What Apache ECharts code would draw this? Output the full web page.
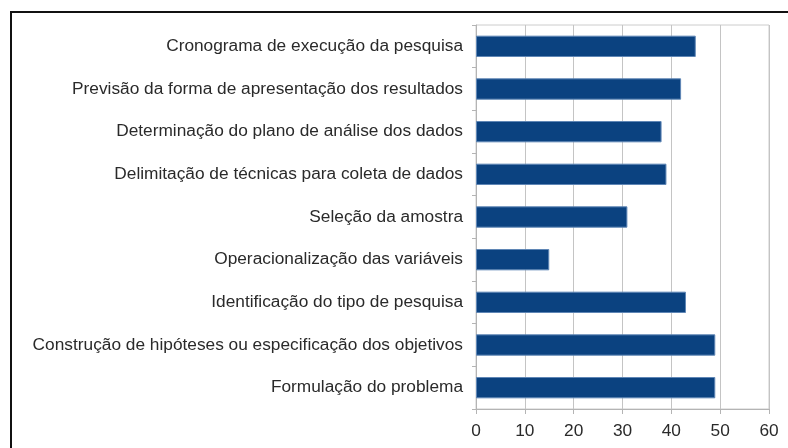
<!DOCTYPE html>
<html><head><meta charset="utf-8">
<script src="https://cdn.jsdelivr.net/npm/echarts@6/dist/echarts.min.js"></script>
<style>
html,body{margin:0;padding:0;background:#fff;overflow:hidden}
#c{position:absolute;left:0;top:0;width:788px;height:448px}
#frame{position:absolute;left:10px;top:11px;width:800px;height:460px;border:2px solid #111;box-sizing:border-box;pointer-events:none}
</style></head>
<body>
<div id="c"></div>
<div id="frame"></div>
<script>
const categories = [
  "Cronograma de execução da pesquisa",
  "Previsão da forma de apresentação dos resultados",
  "Determinação do plano de análise dos dados",
  "Delimitação de técnicas para coleta de dados",
  "Seleção da amostra",
  "Operacionalização das variáveis",
  "Identificação do tipo de pesquisa",
  "Construção de hipóteses ou especificação dos objetivos",
  "Formulação do problema"
];
const values = [45, 42, 38, 39, 31, 15, 43, 49, 49];
const xTicks = [0, 10, 20, 30, 40, 50, 60];

const chart = echarts.init(document.getElementById('c'), null, {renderer: 'canvas'});
chart.setOption({
  animation: false,
  backgroundColor: '#fff',
  grid: {left: 476, right: 19, top: 25, bottom: 39, show: true, borderColor: '#cccccc', borderWidth: 1},
  xAxis: {
    type: 'value', min: xTicks[0], max: xTicks[xTicks.length - 1], interval: 10,
    axisLine: {show: true, lineStyle: {color: '#b4b4b4', width: 1}},
    axisTick: {show: true, length: 5, lineStyle: {color: '#b4b4b4'}},
    splitLine: {show: true, lineStyle: {color: '#c4c4c4', width: 1}},
    axisLabel: {color: '#2a2a2a', fontFamily: 'Liberation Sans', fontSize: 17.3, margin: 14}
  },
  yAxis: {
    type: 'category', data: categories, inverse: true,
    axisLine: {show: true, lineStyle: {color: '#b4b4b4', width: 1}},
    axisTick: {show: true, length: 4, lineStyle: {color: '#b4b4b4'}},
    axisLabel: {color: '#2a2a2a', fontFamily: 'Liberation Sans', fontSize: 17.3, margin: 13}
  },
  series: [{
    type: 'bar', data: values, barWidth: '50%',
    itemStyle: {color: '#0b4280', borderColor: '#5f86b5', borderWidth: 1}
  }]
});
</script>
</body></html>
